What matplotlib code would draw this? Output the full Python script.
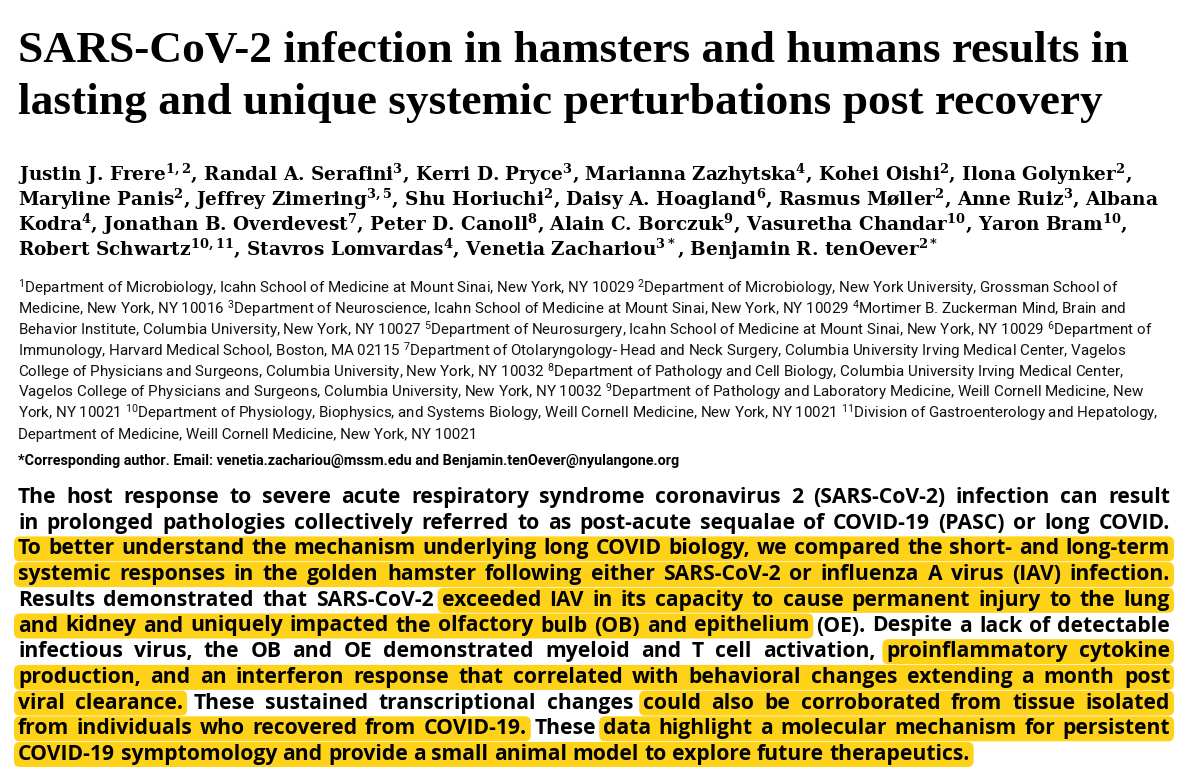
import matplotlib
matplotlib.use('Agg')
import matplotlib.pyplot as plt
from matplotlib.patches import FancyBboxPatch

plt.rcParams['mathtext.default'] = 'regular'

# ── text content ────────────────────────────────────────────
title_lines = [
    'SARS-CoV-2 infection in hamsters and humans results in',
    'lasting and unique systemic perturbations post recovery',
]
author_lines = [
    r'Justin J. Frere$^{1,2}$, Randal A. Serafini$^{3}$, Kerri D. Pryce$^{3}$, Marianna Zazhytska$^{4}$, Kohei Oishi$^{2}$, Ilona Golynker$^{2}$,',
    r'Maryline Panis$^{2}$, Jeffrey Zimering$^{3,5}$, Shu Horiuchi$^{2}$, Daisy A. Hoagland$^{6}$, Rasmus Møller$^{2}$, Anne Ruiz$^{3}$, Albana',
    r'Kodra$^{4}$, Jonathan B. Overdevest$^{7}$, Peter D. Canoll$^{8}$, Alain C. Borczuk$^{9}$, Vasuretha Chandar$^{10}$, Yaron Bram$^{10}$,',
    r'Robert Schwartz$^{10,11}$, Stavros Lomvardas$^{4}$, Venetia Zachariou$^{3*}$, Benjamin R. tenOever$^{2*}$',
]
affil_lines = [
    r'$^{1}$Department of Microbiology, Icahn School of Medicine at Mount Sinai, New York, NY 10029 $^{2}$Department of Microbiology, New York University, Grossman School of',
    r'Medicine, New York, NY 10016 $^{3}$Department of Neuroscience, Icahn School of Medicine at Mount Sinai, New York, NY 10029 $^{4}$Mortimer B. Zuckerman Mind, Brain and',
    r'Behavior Institute, Columbia University, New York, NY 10027 $^{5}$Department of Neurosurgery, Icahn School of Medicine at Mount Sinai, New York, NY 10029 $^{6}$Department of',
    r'Immunology, Harvard Medical School, Boston, MA 02115 $^{7}$Department of Otolaryngology- Head and Neck Surgery, Columbia University Irving Medical Center, Vagelos',
    r'College of Physicians and Surgeons, Columbia University, New York, NY 10032 $^{8}$Department of Pathology and Cell Biology, Columbia University Irving Medical Center,',
    r'Vagelos College of Physicians and Surgeons, Columbia University, New York, NY 10032 $^{9}$Department of Pathology and Laboratory Medicine, Weill Cornell Medicine, New',
    r'York, NY 10021 $^{10}$Department of Physiology, Biophysics, and Systems Biology, Weill Cornell Medicine, New York, NY 10021 $^{11}$Division of Gastroenterology and Hepatology,',
    r'Department of Medicine, Weill Cornell Medicine, New York, NY 10021',
]
corresponding = '*Corresponding author. Email: venetia.zachariou@mssm.edu and Benjamin.tenOever@nyulangone.org'

# abstract: each line is a list of (text, highlighted)
abstract_lines = [
    [('The host response to severe acute respiratory syndrome coronavirus 2 (SARS-CoV-2) infection can result', False)],
    [('in prolonged pathologies collectively referred to as post-acute sequalae of COVID-19 (PASC) or long COVID.', False)],
    [('To better understand the mechanism underlying long COVID biology, we compared the short- and long-term', True)],
    [('systemic responses in the golden hamster following either SARS-CoV-2 or influenza A virus (IAV) infection.', True)],
    [('Results demonstrated that SARS-CoV-2', False), ('exceeded IAV in its capacity to cause permanent injury to the lung', True)],
    [('and kidney and uniquely impacted the olfactory bulb (OB) and epithelium', True), ('(OE). Despite a lack of detectable', False)],
    [('infectious virus, the OB and OE demonstrated myeloid and T cell activation,', False), ('proinflammatory cytokine', True)],
    [('production, and an interferon response that correlated with behavioral changes extending a month post', True)],
    [('viral clearance.', True), ('These sustained transcriptional changes', False), ('could also be corroborated from tissue isolated', True)],
    [('from individuals who recovered from COVID-19.', True), ('These', False), ('data highlight a molecular mechanism for persistent', True)],
    [('COVID-19 symptomology and provide a small animal model to explore future therapeutics.', True)],
]

HL = '#FFD21A'
W, H = 1200, 779
fig = plt.figure(figsize=(W / 100, H / 100), dpi=100)
ax = fig.add_axes([0, 0, 1, 1])
ax.set_xlim(0, W); ax.set_ylim(H, 0); ax.axis('off')
r = fig.canvas.get_renderer()

X0 = 18
for i, s in enumerate(title_lines):
    ax.text(X0, 62 + 52 * i, s, family=['Liberation Serif', 'DejaVu Serif'], weight='bold',
            fontsize=32.7, va='baseline')
for i, s in enumerate(author_lines):
    ax.text(X0, 181 + 25 * i, s, family=['DejaVu Serif'], weight='bold', fontsize=13.3,
            va='baseline')
for i, s in enumerate(affil_lines):
    ax.text(X0, 293 + 20.8 * i, s, family=['Roboto', 'DejaVu Sans'], fontsize=10.9,
            va='baseline', color='#111111')
ax.text(X0, 465, corresponding, family=['Roboto', 'DejaVu Sans'], weight='bold',
        fontsize=10.4, va='baseline')


def width(t):
    return t.get_window_extent(r).width


# abstract, justified word by word with highlight boxes
AB_FONT = dict(family=['Open Sans', 'DejaVu Sans'], weight='bold', fontsize=15.2, va='baseline')
RIGHT = 1170
for li, segs in enumerate(abstract_lines):
    y = 503 + 25.7 * li
    words = []
    for text, hl in segs:
        for w in text.split():
            words.append((w, hl))
    arts = [ax.text(0, y, w, **AB_FONT, zorder=3) for w, _ in words]
    ws = [width(a) for a in arts]
    last = li == len(abstract_lines) - 1
    gap = 5.5 if last else (RIGHT - X0 - sum(ws)) / (len(ws) - 1)
    x = X0
    xs = []
    for a, wd in zip(arts, ws):
        a.set_x(x)
        xs.append((x, x + wd))
        x += wd + gap
    # merge highlighted runs
    i = 0
    while i < len(words):
        if words[i][1]:
            j = i
            while j + 1 < len(words) and words[j + 1][1]:
                j += 1
            x1, x2 = xs[i][0] - 4, xs[j][1] + 4
            ax.add_patch(FancyBboxPatch((x1, y - 18), x2 - x1, 25,
                                        boxstyle='round,pad=0,rounding_size=6',
                                        fc=HL, ec='none', zorder=1))
            i = j + 1
        else:
            i += 1

fig.savefig('out.png', dpi=100)
